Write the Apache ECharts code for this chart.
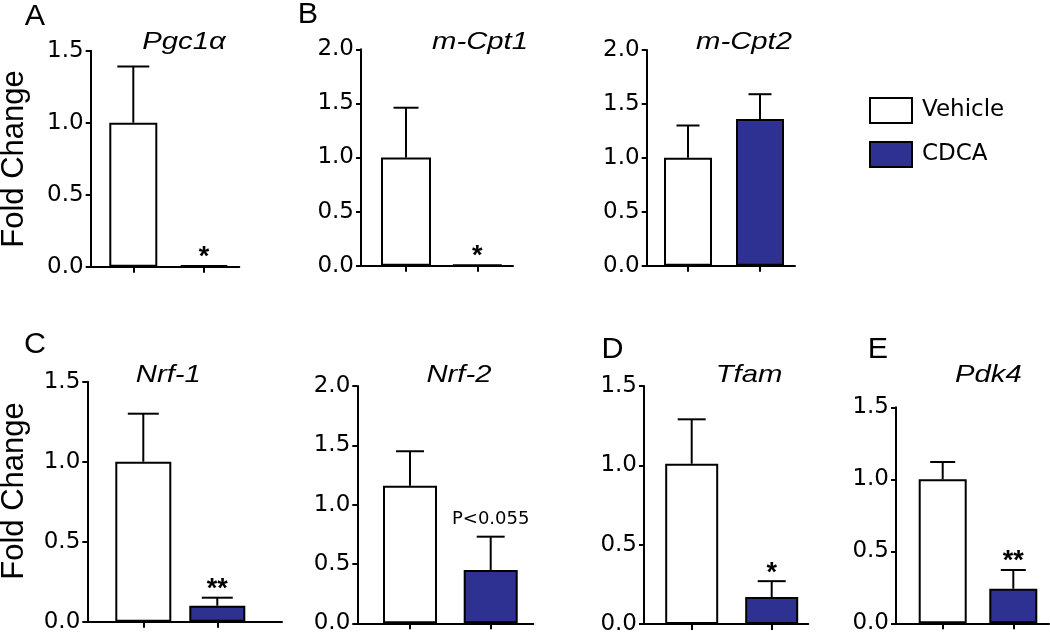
<!DOCTYPE html>
<html><head><meta charset="utf-8">
<script src="https://cdn.jsdelivr.net/npm/echarts@6/dist/echarts.min.js"></script>
<style>html,body{margin:0;padding:0;background:#fff}#c{width:1050px;height:639px}</style>
</head><body><div id="c"></div>
<script>
// ---- data ----
const groups = ['Vehicle', 'CDCA'];
const genes = ['Pgc1α', 'm-Cpt1', 'm-Cpt2', 'Nrf-1', 'Nrf-2', 'Tfam', 'Pdk4'];
const panelLetters = ['A', 'B', '', 'C', '', 'D', 'E'];
const vehicleMean = [1.00, 1.00, 1.00, 1.00, 1.16, 1.01, 1.00];
const cdcaMean = [0.01, 0.01, 1.36, 0.10, 0.45, 0.17, 0.24];
const vehicleUpper = [1.39, 1.46, 1.30, 1.30, 1.45, 1.29, 1.12];
const cdcaUpper = [null, null, 1.59, 0.15, 0.73, 0.27, 0.37];
const cdcaMark = ['*', '*', '', '**', 'P<0.055', '*', '**'];
const yMax = [1.5, 2.0, 2.0, 1.5, 2.0, 1.5, 1.5];
const yTickStep = 0.5;
const yAxisTitle = 'Fold Change';

// ---- layout (pixels) ----
const FONT = '"Liberation Sans", Arial, Helvetica, sans-serif';
const WIDE = '"DejaVu Sans", "Liberation Sans", Arial, sans-serif';
const layout = [
  {L: 90.7, R: 239.3, T: 50.7, B: 266.7, t0: 133.3, t1: 204, bw: 48, cap: 32, title: [184, 42], letter: [35, 17]},
  {L: 361, R: 513, T: 49.3, B: 265.7, t0: 406, t1: 477.3, bw: 50, cap: 25, title: [480, 42], letter: [308, 15]},
  {L: 646.7, R: 795, T: 50, B: 265.7, t0: 688, t1: 760, bw: 48, cap: 23, title: [744, 42], letter: null},
  {L: 87.3, R: 282, T: 381.7, B: 621.7, t0: 143.3, t1: 217.3, bw: 56, cap: 31, title: [168.3, 375], letter: [35, 345]},
  {L: 357.3, R: 533.3, T: 386, B: 623.3, t0: 410, t1: 490.7, bw: 54, cap: 28, title: [459, 375], letter: null},
  {L: 644, R: 808.3, T: 386, B: 624, t0: 691.7, t1: 771.7, bw: 53, cap: 28, title: [749, 375], letter: [612.5, 350]},
  {L: 896, R: 1049, T: 407.3, B: 623.3, t0: 942.7, t1: 1013.3, bw: 48, cap: 25, title: [988.3, 375], letter: [878, 350]}
];

const grids = [], xAxes = [], yAxes = [], series = [], graphics = [];
layout.forEach((p, i) => {
  const s = p.t1 - p.t0;
  grids.push({left: p.L, top: p.T, width: p.R - p.L, height: p.B - p.T});
  xAxes.push({
    type: 'value', gridIndex: i,
    min: -(p.t0 - p.L) / s, max: 1 + (p.R - p.t1) / s,
    axisLine: {show: true, onZero: false, lineStyle: {color: '#000', width: 2}},
    axisTick: {show: true, customValues: [0, 1], length: 6, lineStyle: {color: '#000', width: 2}},
    axisLabel: {show: false}, splitLine: {show: false}
  });
  yAxes.push({
    type: 'value', gridIndex: i, min: 0, max: yMax[i], interval: yTickStep,
    axisLine: {show: true, onZero: false, lineStyle: {color: '#000', width: 2}},
    axisTick: {show: true, length: 5, lineStyle: {color: '#000', width: 2}},
    axisLabel: {fontSize: 23, color: '#000', fontFamily: WIDE, margin: 7, formatter: v => v.toFixed(1)},
    splitLine: {show: false}
  });
  series.push({
    name: groups[0], type: 'bar', xAxisIndex: i, yAxisIndex: i,
    barWidth: p.bw, barGap: '-100%',
    data: [[0, vehicleMean[i]]],
    itemStyle: {color: '#ffffff', borderColor: '#000', borderWidth: 2}
  });
  series.push({
    name: groups[1], type: 'bar', xAxisIndex: i, yAxisIndex: i,
    barWidth: p.bw, barGap: '-100%',
    data: [[1, cdcaMean[i]]],
    itemStyle: {color: '#2e3192', borderColor: '#000', borderWidth: 2}
  });
  const errData = [[0, vehicleMean[i], vehicleUpper[i]]];
  if (cdcaUpper[i] != null) errData.push([1, cdcaMean[i], cdcaUpper[i]]);
  series.push({
    type: 'custom', xAxisIndex: i, yAxisIndex: i, z: 5, silent: true,
    encode: {x: 0, y: 1},
    data: errData,
    renderItem: (params, api) => {
      const x = api.value(0), m = api.value(1), u = api.value(2);
      const a = api.coord([x, m]), b = api.coord([x, u]);
      const cw = p.cap;
      return {type: 'group', children: [
        {type: 'line', shape: {x1: a[0], y1: a[1], x2: b[0], y2: b[1]}, style: {stroke: '#000', lineWidth: 2}},
        {type: 'line', shape: {x1: b[0] - cw / 2, y1: b[1], x2: b[0] + cw / 2, y2: b[1]}, style: {stroke: '#000', lineWidth: 2}}
      ]};
    }
  });
  if (cdcaMark[i]) {
    const top = cdcaUpper[i] != null ? cdcaUpper[i] : cdcaMean[i];
    const mark = cdcaMark[i];
    const isStar = /^\*+$/.test(mark);
    series.push({
      type: 'custom', xAxisIndex: i, yAxisIndex: i, z: 6, silent: true,
      encode: {x: 0, y: 1},
      data: [[1, top]],
      renderItem: (params, api) => {
        const c = api.coord([api.value(0), api.value(1)]);
        return {type: 'text', x: c[0], y: c[1] - (isStar ? 8 : 17),
          style: {text: mark, fill: '#000', align: 'center', verticalAlign: 'middle',
            font: isStar ? ('bold 27px ' + FONT) : ('18px ' + WIDE)}};
      }
    });
  }
  graphics.push({type: 'text', x: p.title[0], y: p.title[1], scaleX: 1.22,
    style: {text: genes[i], fill: '#000', align: 'center', verticalAlign: 'middle',
      font: 'italic 24px ' + FONT}});
  if (p.letter) {
    graphics.push({type: 'text', x: p.letter[0], y: p.letter[1], scaleX: 1.05,
      style: {text: panelLetters[i], fill: '#000', align: 'center', verticalAlign: 'middle',
        font: '29px ' + FONT}});
  }
});
graphics.push({type: 'text', x: 14, y: 159, rotation: Math.PI / 2,
  style: {text: yAxisTitle, fill: '#000', align: 'center', verticalAlign: 'middle', font: '31px ' + FONT}});
graphics.push({type: 'text', x: 14, y: 491, rotation: Math.PI / 2,
  style: {text: yAxisTitle, fill: '#000', align: 'center', verticalAlign: 'middle', font: '31px ' + FONT}});

const chart = echarts.init(document.getElementById('c'), null, {renderer: 'canvas'});
chart.setOption({
  animation: false,
  backgroundColor: '#fff',
  legend: {
    orient: 'vertical', left: 869, top: 97, padding: 0, itemWidth: 42, itemHeight: 25, itemGap: 17,
    icon: 'rect', data: groups, selectedMode: false,
    itemStyle: {borderColor: '#000', borderWidth: 2},
    textStyle: {fontSize: 23, color: '#000', fontFamily: WIDE, padding: [0, 0, 0, 5]}
  },
  grid: grids, xAxis: xAxes, yAxis: yAxes, series: series, graphic: graphics
});
</script></body></html>
